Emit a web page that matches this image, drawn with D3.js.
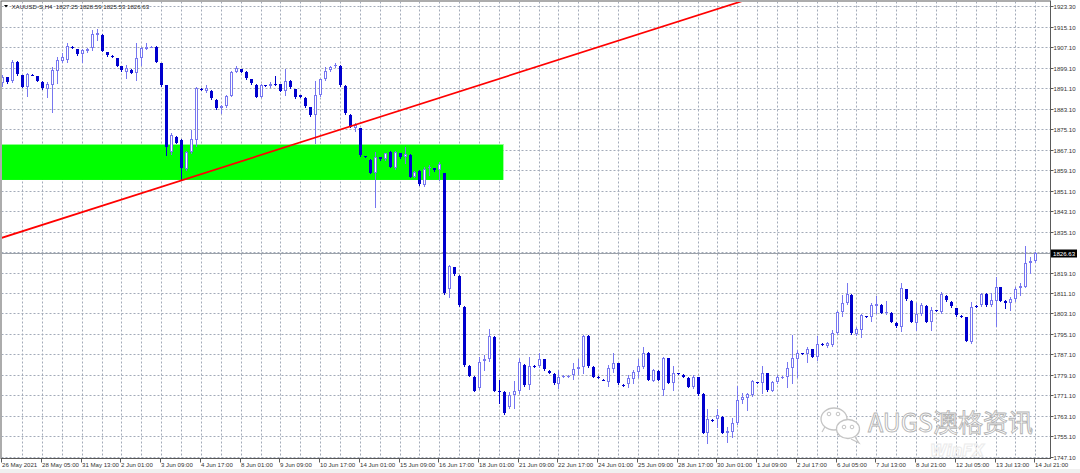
<!DOCTYPE html>
<html><head><meta charset="utf-8">
<script src="https://cdn.jsdelivr.net/npm/d3@7"></script>
<style>html,body{margin:0;padding:0;background:#fff;overflow:hidden}</style>
</head><body><svg id="c" width="1080" height="473"></svg>
<script>
// ---------------- DATA ----------------
const opens=[1893.06,1895.41,1894.11,1901.53,1896.32,1891.50,1896.4,1895.93,1893.71,1890.72,1892.41,1898.01,1901.92,1902.18,1907.3,1906.35,1904.53,1905.9,1906.74,1911.96,1911.96,1905.18,1903.9,1902.84,1899.84,1897.62,1898.28,1897.23,1902.84,1906.61,1907.3,1907.40,1900.88,1892.41,1866.35,1872.21,1870.91,1859.44,1866.35,1870.91,1890.9,1890.07,1890.20,1886.55,1883.29,1884.20,1888.24,1897.62,1898.54,1897.62,1894.63,1892.41,1887.85,1892.4,1892.02,1892.9,1892.80,1890.20,1894.11,1890.72,1888.50,1887.46,1883.68,1880.68,1888.50,1894.63,1898.28,1899.84,1899.84,1892.02,1880.68,1875.47,1875.47,1864.5,1863.09,1858.14,1864.13,1863.35,1866.35,1859.83,1865.70,1864.13,1865.05,1856.58,1858.92,1853.32,1859.83,1859.83,1859.18,1857.88,1812.53,1821.13,1817.75,1805.76,1782.56,1778.39,1773.83,1784.65,1785.17,1794.03,1772.91,1772.52,1766.67,1771.23,1772.91,1782.95,1775.13,1782.6,1782.56,1785.17,1780.74,1779.43,1775.53,1778.4,1778.6,1779.04,1781.26,1782.30,1794.29,1782.30,1778.3,1777.2,1776.44,1781.26,1783.61,1775.3,1775.53,1777.35,1780.35,1782.30,1787.78,1776.83,1780.74,1773.17,1785.56,1775.79,1779.8,1779.04,1778.0,1774.48,1778.13,1771.62,1756.50,1761.6,1761.71,1762.76,1756.24,1756.89,1760.15,1769.27,1769.92,1771.23,1776.2,1775.79,1779.70,1772.91,1776.44,1778.1,1778.13,1781.65,1785.17,1787.6,1787.25,1789.08,1785.95,1791.2,1790.38,1790.77,1795.59,1803.80,1807.32,1810.32,1795.07,1796.64,1802.0,1801.85,1806.02,1806.41,1803.15,1803.41,1799.50,1797.68,1812.53,1808.10,1799.50,1802.89,1806.02,1799.89,1804.3,1803.80,1809.93,1807.71,1805.10,1802.3,1801.59,1792.08,1806.1,1806.41,1810.71,1806.41,1808.10,1813.32,1808.10,1807.32,1808.63,1812.92,1813.58,1822.96,1823.74];
const highs=[1896.32,1895.6,1902.18,1901.79,1896.5,1896.97,1896.6,1896.1,1893.9,1893.71,1899.58,1903.49,1905.05,1908.96,1907.6,1906.6,1906.35,1907.0,1913.91,1914.17,1912.3,1905.4,1904.1,1903.1,1900.0,1900.23,1898.5,1908.70,1907.40,1908.96,1907.6,1907.6,1901.2,1892.6,1873.52,1872.5,1871.2,1866.6,1874.82,1891.50,1891.1,1892.28,1890.5,1886.8,1884.59,1888.5,1897.9,1899.84,1898.8,1897.9,1894.9,1892.7,1892.7,1892.6,1893.71,1895.93,1893.0,1898.54,1894.4,1891.0,1888.7,1887.7,1883.9,1893.97,1894.9,1899.58,1899.9,1900.88,1900.1,1892.3,1880.9,1877.42,1875.7,1864.7,1863.3,1866.35,1864.4,1866.0,1866.6,1866.6,1866.0,1868.30,1865.3,1858.8,1859.2,1860.49,1861.14,1860.1,1862.44,1858.1,1822.05,1821.4,1818.0,1806.0,1782.8,1778.6,1785.95,1786.86,1796.90,1794.3,1777.09,1772.8,1772.52,1776.83,1785.56,1783.2,1786.21,1782.9,1787.51,1785.4,1781.0,1779.7,1781.00,1778.9,1779.0,1783.61,1785.17,1794.68,1794.6,1782.6,1778.5,1777.4,1782.95,1787.78,1783.9,1775.5,1779.04,1781.00,1785.17,1790.12,1788.0,1781.3,1781.0,1785.95,1785.8,1782.56,1780.0,1779.3,1778.3,1779.04,1778.4,1771.9,1765.62,1761.8,1765.62,1763.0,1758.85,1762.10,1774.74,1771.88,1772.14,1777.1,1776.4,1782.56,1780.0,1776.7,1779.04,1778.5,1784.26,1794.68,1788.82,1787.8,1789.86,1789.3,1794.29,1791.4,1792.08,1796.64,1804.19,1810.32,1815.14,1810.6,1797.68,1802.89,1802.2,1807.32,1809.93,1806.7,1808.10,1803.7,1799.8,1815.14,1812.8,1808.4,1807.06,1807.06,1806.3,1805.76,1804.5,1811.62,1810.2,1808.0,1805.4,1802.5,1801.9,1807.71,1806.3,1811.23,1811.0,1810.97,1817.23,1813.6,1808.4,1809.67,1813.58,1814.88,1829.47,1825.04,1827.26];
const lows=[1892.02,1893.2,1893.71,1896.32,1891.5,1888.11,1896.2,1893.9,1890.9,1887.59,1881.99,1893.06,1901.53,1901.53,1906.9,1904.3,1901.53,1905.5,1906.09,1910.0,1905.6,1903.9,1903.5,1899.7,1898.0,1895.02,1897.0,1894.37,1900.23,1906.35,1907.1,1901.3,1892.2,1865.05,1865.44,1869.6,1855.27,1859.2,1865.96,1868.57,1890.5,1889.81,1887.0,1883.0,1881.33,1884.0,1888.0,1897.4,1897.4,1894.8,1892.8,1887.6,1887.6,1892.0,1891.50,1892.41,1890.0,1888.50,1891.3,1887.4,1887.6,1884.0,1880.4,1869.87,1888.3,1894.37,1898.0,1899.58,1892.2,1881.1,1875.9,1874.56,1864.8,1864.2,1857.9,1844.85,1863.1,1863.1,1860.2,1859.6,1863.9,1861.79,1856.3,1856.3,1853.5,1852.93,1857.23,1858.9,1855.27,1810.7,1809.67,1818.2,1806.0,1782.7,1778.5,1772.7,1773.44,1781.00,1784.65,1772.7,1767.97,1763.8,1766.01,1766.01,1772.14,1774.9,1773.44,1782.2,1782.30,1781.0,1779.7,1775.5,1773.83,1778.2,1778.4,1777.35,1779.43,1779.70,1782.3,1778.1,1777.9,1776.9,1774.74,1780.35,1775.5,1774.9,1774.48,1775.79,1778.39,1781.65,1776.9,1776.6,1776.9,1771.23,1775.8,1773.17,1779.5,1778.1,1774.2,1773.83,1771.4,1756.2,1752.33,1761.2,1758.85,1756.2,1752.98,1754.68,1759.89,1767.97,1765.36,1771.0,1775.8,1772.14,1772.9,1772.6,1775.79,1777.9,1774.48,1776.05,1778.13,1787.3,1784.26,1786.0,1784.91,1790.8,1789.86,1790.38,1795.07,1802.11,1806.8,1795.1,1794.68,1793.77,1801.6,1800.29,1803.41,1803.2,1802.89,1799.6,1798.0,1796.38,1808.4,1799.6,1796.64,1802.50,1799.6,1796.64,1804.0,1803.41,1808.1,1805.8,1802.3,1801.9,1792.2,1791.69,1805.8,1806.02,1806.2,1806.02,1798.20,1807.9,1805.10,1804.45,1808.10,1810.32,1813.32,1819.05,1823.35];
const closes=[1895.41,1893.71,1901.53,1896.71,1891.76,1896.71,1896.32,1894.11,1891.11,1892.80,1898.28,1902.18,1903.49,1907.66,1907.14,1904.53,1906.09,1906.6,1912.22,1912.61,1905.83,1904.14,1903.75,1899.97,1898.28,1898.93,1897.23,1903.10,1906.74,1907.40,1907.4,1901.53,1892.41,1868.30,1872.87,1869.87,1859.83,1866.35,1871.17,1891.11,1890.72,1891.37,1887.20,1883.29,1884.20,1888.24,1897.62,1898.93,1897.62,1895.02,1893.06,1887.85,1892.41,1892.28,1892.80,1892.80,1890.20,1894.11,1891.50,1887.59,1887.85,1884.20,1880.68,1888.50,1894.63,1897.88,1899.58,1900.23,1892.41,1881.33,1876.12,1876.77,1865.05,1864.40,1858.14,1864.40,1863.35,1865.70,1860.49,1866.35,1864.13,1865.31,1856.58,1858.53,1853.71,1859.44,1860.49,1859.18,1861.40,1810.97,1821.66,1818.40,1806.28,1782.95,1778.78,1772.91,1784.26,1785.17,1794.29,1772.91,1772.52,1764.06,1771.23,1772.91,1784.0,1775.13,1782.56,1782.4,1785.17,1781.26,1779.96,1775.79,1778.39,1778.6,1778.8,1781.26,1782.30,1794.29,1782.56,1778.39,1778.13,1777.09,1781.65,1783.61,1775.79,1775.13,1777.74,1780.35,1782.56,1787.78,1777.09,1781.00,1777.09,1785.56,1776.05,1779.96,1779.70,1778.39,1774.48,1778.39,1771.62,1756.50,1761.71,1761.45,1763.41,1756.50,1757.28,1760.15,1769.27,1770.31,1771.62,1776.83,1776.05,1779.70,1773.17,1776.44,1778.13,1778.3,1781.65,1785.56,1787.78,1787.51,1789.08,1786.21,1791.16,1791.0,1791.69,1795.59,1803.80,1807.32,1810.71,1795.33,1796.90,1802.50,1801.85,1806.41,1806.67,1803.41,1803.80,1799.89,1798.20,1812.92,1808.63,1799.89,1802.89,1806.41,1799.89,1804.45,1804.19,1810.71,1808.37,1806.02,1802.50,1802.11,1792.47,1805.76,1806.02,1810.71,1806.41,1808.37,1813.58,1808.10,1807.06,1808.63,1812.53,1813.84,1822.96,1823.74,1826.63];
const dateLabels=["26 May 2021","28 May 05:00","31 May 13:00","2 Jun 01:00","3 Jun 09:00","4 Jun 17:00","8 Jun 01:00","9 Jun 09:00","10 Jun 17:00","14 Jun 01:00","15 Jun 09:00","16 Jun 17:00","18 Jun 01:00","21 Jun 09:00","22 Jun 17:00","24 Jun 01:00","25 Jun 09:00","28 Jun 17:00","30 Jun 01:00","1 Jul 09:00","2 Jul 17:00","6 Jul 05:00","7 Jul 13:00","8 Jul 21:00","12 Jul 05:00","13 Jul 13:00","14 Jul 21:00"];
const labelEvery=8, gridEvery=4;
const priceTicks=[1923.30,1915.10,1907.10,1899.10,1891.10,1883.10,1875.10,1867.10,1859.10,1851.10,1843.10,1835.10,1827.10,1819.10,1811.10,1803.10,1795.10,1787.10,1779.10,1771.10,1763.10,1755.10,1747.10];
const lastPrice=1826.63;
const titleText="XAUUSD-S,H4  1827.25 1828.59 1825.53 1826.63";
const zone={fromBar:-1,toBar:100.8,top:1869.3,bottom:1855.3};
const trend={bar1:0,price1:1832.8,bar2:149,price2:1925.3};
const watermark="AUGS澳格资讯";

// ---------------- DRAW ----------------
const W=1080,H=473;
const plot={l:1.5,t:1.5,r:1050.5,b:458.5};
const font="'Liberation Sans', Arial, sans-serif";
const svg=d3.select("#c");
svg.append("rect").attr("width",W).attr("height",H).attr("fill","#fff");
svg.append("rect").attr("x",0).attr("y",469).attr("width",W).attr("height",4).attr("fill","#f0f0f0");

const n=opens.length;
const x=d3.scaleLinear().domain([0,n-1]).range([2.8,2.8+4.966*(n-1)]);
const y=d3.scaleLinear().domain([1747.1,1915.1]).range([456.7,27.0]);

svg.append("clipPath").attr("id","clip").append("rect")
  .attr("x",plot.l+0.5).attr("y",plot.t+0.5).attr("width",plot.r-plot.l-1).attr("height",plot.b-plot.t-1);
const gp=svg.append("g").attr("clip-path","url(#clip)");

const gridCol="#a3abb9";
priceTicks.forEach(p=>{
  const yy=Math.round(y(p))+0.5;
  gp.append("line").attr("x1",plot.l).attr("x2",plot.r).attr("y1",yy).attr("y2",yy)
    .attr("stroke",gridCol).attr("stroke-width",1).attr("stroke-dasharray","2,2");
});
d3.range(gridEvery,n,gridEvery).forEach(i=>{
  const xx=Math.floor(x(i))+0.5;
  gp.append("line").attr("x1",xx).attr("x2",xx).attr("y1",plot.t).attr("y2",plot.b)
    .attr("stroke",gridCol).attr("stroke-width",1).attr("stroke-dasharray","2,2");
});

// faint background watermark (inside plot)
gp.append("text").attr("x",930).attr("y",456).attr("font-family","'DejaVu Sans', sans-serif").attr("font-size",15)
  .attr("font-style","italic").attr("font-weight","bold").attr("fill","none").attr("stroke","#ebebeb").attr("stroke-width",1).text("WinFX");

// zone rectangle (background object)
const zx1=Math.max(plot.l,x(zone.fromBar)), zx2=x(zone.toBar);
gp.append("rect").attr("x",zx1).attr("y",y(zone.top)).attr("width",zx2-zx1)
  .attr("height",y(zone.bottom)-y(zone.top)).attr("fill","#00ff00");
gp.append("line").attr("x1",zx1).attr("x2",zx2).attr("y1",Math.round(y(zone.top))+0.5).attr("y2",Math.round(y(zone.top))+0.5)
  .attr("stroke","#8cff8c").attr("stroke-width",1);

// current price line
const ly=Math.round(y(lastPrice))+0.5;
gp.append("line").attr("x1",plot.l).attr("x2",plot.r).attr("y1",ly).attr("y2",ly)
  .attr("stroke","#9ca2aa").attr("stroke-width",1);

// candles
const bullCol="#7777f0", bearCol="#0000cd";
const gc=gp.append("g");
for(let i=0;i<n;i++){
  const o=opens[i],h=highs[i],l=lows[i],c=closes[i];
  const bull=c>=o;
  const px=Math.floor(x(i));
  const col=bull?bullCol:bearCol;
  gc.append("line").attr("x1",px+0.5).attr("x2",px+0.5)
    .attr("y1",Math.round(y(h))).attr("y2",Math.round(y(l))+1)
    .attr("stroke",col).attr("stroke-width",1);
  let top=Math.round(y(Math.max(o,c))), bot=Math.round(y(Math.min(o,c)));
  if(bull && bot-top>=2){
    gc.append("rect").attr("x",px-0.5).attr("y",top+0.5).attr("width",2).attr("height",bot-top-1)
      .attr("fill","#fff").attr("stroke",col).attr("stroke-width",1);
  } else {
    gc.append("rect").attr("x",px-1).attr("y",top).attr("width",3).attr("height",Math.max(1,bot-top)).attr("fill",col);
  }
}

// trend line
const tx1=x(trend.bar1), ty1=y(trend.price1), tx2=x(trend.bar2), ty2=y(trend.price2);
const slope=(ty2-ty1)/(tx2-tx1);
gp.append("line").attr("x1",plot.l).attr("y1",ty1+(plot.l-tx1)*slope)
  .attr("x2",tx2).attr("y2",ty2).attr("stroke","#ff0000").attr("stroke-width",1.7);

// frame
svg.append("rect").attr("x",plot.l-0.5).attr("y",plot.t-0.5).attr("width",plot.r-plot.l+0.5).attr("height",plot.b-plot.t+0.5)
  .attr("fill","none").attr("stroke","#5a5a5a").attr("stroke-width",1);

// price axis
priceTicks.forEach(p=>{
  const yy=Math.round(y(p))+0.5;
  svg.append("line").attr("x1",plot.r).attr("x2",plot.r+3).attr("y1",yy).attr("y2",yy).attr("stroke","#5a5a5a");
  svg.append("text").attr("x",plot.r+3).attr("y",yy+2.3).attr("font-family",font).attr("font-size",6.1)
    .attr("fill","#333").text(p.toFixed(2));
});
svg.append("rect").attr("x",plot.r+0.5).attr("y",ly-4).attr("width",26).attr("height",8).attr("fill","#000");
svg.append("text").attr("x",plot.r+2.5).attr("y",ly+2.3).attr("font-family",font).attr("font-size",6.1)
  .attr("fill","#fff").text(lastPrice.toFixed(2));

// date axis
dateLabels.forEach((t,k)=>{
  const i=k*labelEvery;
  const xx=Math.floor(x(i))-0.5;
  svg.append("line").attr("x1",xx).attr("x2",xx).attr("y1",plot.b).attr("y2",plot.b+4).attr("stroke","#5a5a5a");
  svg.append("text").attr("x",xx+0.5).attr("y",467).attr("font-family",font).attr("font-size",6.1)
    .attr("fill","#333").text(t);
});

// title
svg.append("path").attr("d","M4,5 L8,5 L6,7.5 Z").attr("fill","#000");
svg.append("text").attr("x",11.5).attr("y",8.6).attr("font-family",font).attr("font-size",6.1)
  .attr("fill","#222").style("white-space","pre").text(titleText);

// watermark
const wm=svg.append("g");
wm.append("path").attr("d","M822,432 L826,425").attr("stroke","#c4c4c4").attr("stroke-width",1.2);
wm.append("ellipse").attr("cx",834).attr("cy",419).attr("rx",13).attr("ry",11).attr("fill","#fff").attr("stroke","#c4c4c4").attr("stroke-width",1.3);
wm.append("ellipse").attr("cx",848).attr("cy",429).attr("rx",11.5).attr("ry",9.5).attr("fill","#fff").attr("stroke","#c4c4c4").attr("stroke-width",1.3);
wm.append("path").attr("d","M855,437 L859,443 L851,439").attr("fill","#fff").attr("stroke","#c4c4c4").attr("stroke-width",1.2);
[[829,414],[838,414],[844,427],[852,427]].forEach(([cx,cy])=>{
  wm.append("circle").attr("cx",cx).attr("cy",cy).attr("r",1.8).attr("fill","#fff").attr("stroke","#c4c4c4").attr("stroke-width",1);
});
wm.append("text").attr("x",868).attr("y",432).attr("font-family","'Noto Sans CJK SC', sans-serif").attr("font-size",25)
  .attr("fill","#fff").attr("stroke","#b4b4b4").attr("stroke-width",0.9).text(watermark);
</script>
</body></html>
